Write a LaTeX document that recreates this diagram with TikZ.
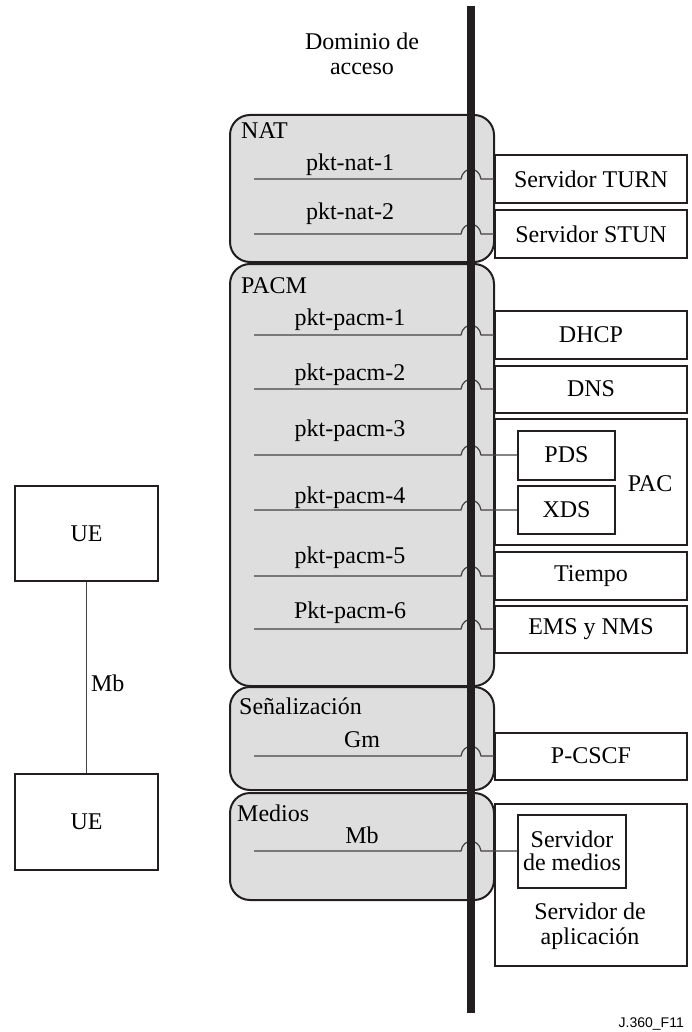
\documentclass[tikz,border=0pt]{standalone}
\usepackage{fontspec}
\setmainfont{Liberation Serif}
\setsansfont{Liberation Sans}
\usepackage{tikz}
\usetikzlibrary{positioning}
\usepackage{xcolor}
\definecolor{grpfill}{RGB}{222, 222, 222}
\definecolor{ink}{RGB}{35, 31, 32}

\begin{document}
\begin{tikzpicture}[x=1pt, y=-1pt,
  every node/.style={font=\fontsize{24}{25}\selectfont},
  group/.style={draw=ink, line width=2pt, fill=grpfill, rounded corners=20pt, minimum width=264pt, inner sep=0pt},
  srv/.style={draw=ink, line width=2pt, fill=white, minimum width=192pt, minimum height=48pt, inner sep=0pt},
  subsrv/.style={draw=ink, line width=2pt, fill=white, inner sep=0pt},
  link/.style={draw=ink!85, line width=1.2pt},
  lbl/.style={anchor=base, inner sep=0pt},
  glbl/.style={anchor=base west, inner sep=0pt}]
  \useasboundingbox (0,0) rectangle (692,1032);

  % Access domain groups
  \node[group, minimum height=147pt] (nat) at (362,188.5) {};
  \node[group, minimum height=422pt] (pacm) at (362,475) {};
  \node[group, minimum height=103pt] (sig) at (362,738.5) {};
  \node[group, minimum height=107pt] (med) at (362,846.5) {};
  \node[glbl] (natlbl) at ([shift={(12,25)}]nat.north west) {NAT};
  \node[glbl] (pacmlbl) at ([shift={(12,30)}]pacm.north west) {PACM};
  \node[glbl] (siglbl) at ([shift={(10,28)}]sig.north west) {Señalización};
  \node[glbl] (medlbl) at ([shift={(8,29)}]med.north west) {Medios};

  % Servers
  \node[srv] (turn) at (591,179) {Servidor TURN};
  \node[srv] (stun) at (591,234) {Servidor STUN};
  \node[srv] (dhcp) at (591,335) {DHCP};
  \node[srv, minimum height=47pt] (dns) at (591,389) {DNS};
  \node[srv, minimum height=126pt] (pac) at (591,482) {};
  \node[subsrv, minimum width=97pt, minimum height=49pt] (pds) at (566.5,455) {PDS};
  \node[subsrv, minimum width=97pt, minimum height=48pt] (xds) at (566.5,510) {XDS};
  \node (paclbl) at (650,484) {PAC};
  \node[srv] (tiempo) at (591,576) {Tiempo};
  \node[srv, minimum height=47pt] (ems) at (591,629) {EMS y NMS};
  \node[srv, minimum height=47pt] (pcscf) at (591,756) {P-CSCF};
  \node[srv, minimum height=162pt] (app) at (591,885) {};
  \node[subsrv, align=center, minimum width=108pt, minimum height=73pt,
        font=\fontsize{24}{23}\selectfont] (medsrv) at (572,851) {Servidor\\de medios};
  \node[align=center] (applbl) at (590,926) {Servidor de\\aplicación};

  % Interface labels
  \node[lbl] (nat1) at (350,171) {pkt-nat-1};
  \node[lbl] (nat2) at (350,220) {pkt-nat-2};
  \node[lbl] (pacm1) at (350,325) {pkt-pacm-1};
  \node[lbl] (pacm2) at (350,380) {pkt-pacm-2};
  \node[lbl] (pacm3) at (350,436) {pkt-pacm-3};
  \node[lbl] (pacm4) at (350,503) {pkt-pacm-4};
  \node[lbl] (pacm5) at (350,563) {pkt-pacm-5};
  \node[lbl] (pacm6) at (350,618) {Pkt-pacm-6};
  \node[lbl] (gm) at (362,747) {Gm};
  \node[lbl] (mb) at (362,843) {Mb};

  % Links hopping over the access line
  \foreach \t/\y in {turn/179, stun/234, dhcp/335, dns/389, pds/455, xds/510,
                     tiempo/576, ems/629, pcscf/756, medsrv/851} {
    \coordinate (\t-src) at (254,\y);
    \draw[link] (\t-src) -- (461,\y) .. controls +(2,-13) and +(-2,-13) .. (481,\y) -- (\t.west);
  }

  % Access line
  \draw[ink, line width=8pt] (471,6) -- (471,1013);
  \node[align=center] (dom) at (362,54) {Dominio de\\acceso};

  % UE pair
  \node[draw=ink, line width=2pt, minimum width=143pt, minimum height=95pt] (ue1) at (86.5,533.5) {UE};
  \node[draw=ink, line width=2pt, minimum width=143pt, minimum height=96pt] (ue2) at (86.5,822) {UE};
  \draw[link] (ue1) -- node[right, pos=0.53, inner sep=4pt] (mbue) {Mb} (ue2);

  \node[anchor=base east, inner sep=0pt, font=\sffamily\fontsize{14}{16}\selectfont] (figid) at (684,1027) {J.360\_F11};
\end{tikzpicture}
\end{document}
